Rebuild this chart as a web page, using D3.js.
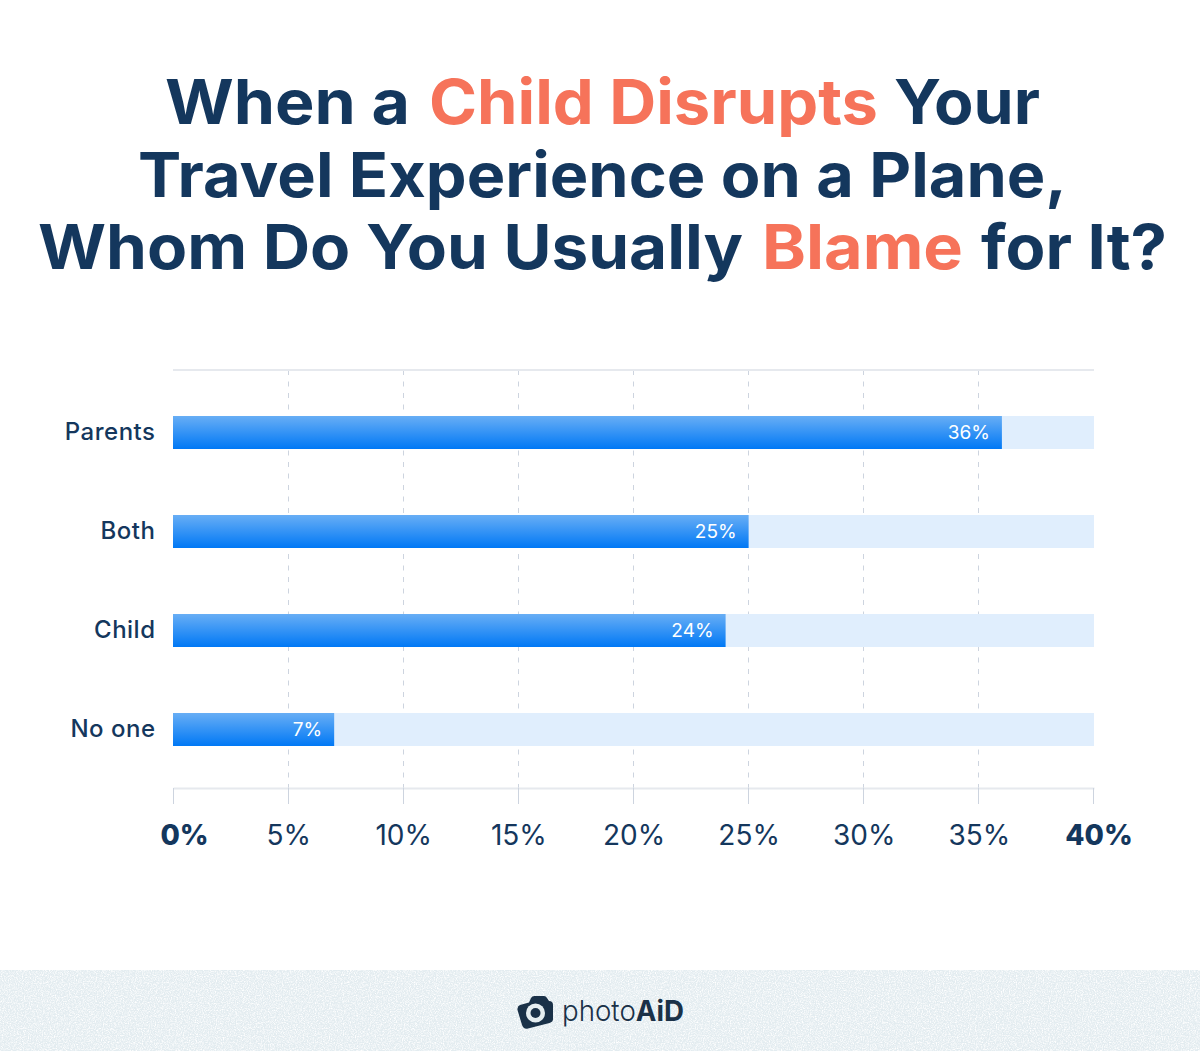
<!DOCTYPE html>
<html><head><meta charset="utf-8">
<script src="https://cdn.jsdelivr.net/npm/d3@7"></script>
<style>
html,body{margin:0;padding:0;background:#fff}
svg{display:block}
text{font-family:Inter,"Noto Sans",sans-serif}
</style></head><body>
<svg id="c" width="1200" height="1051"></svg>
<script>
const categories = ["Parents","Both","Child","No one"];
const values = [36,25,24,7];
const tickValues = [0,5,10,15,20,25,30,35,40];
const titleLines = [
  [["When a",0],["Child Disrupts",1],["Your",0]],
  [["Travel Experience on a Plane,",0]],
  [["Whom Do You Usually",0],["Blame",1],["for It?",0]]
];

(function(){
const navy="#14375d", coral="#f6735a";
const svg=d3.select("#c");
const defs=svg.append("defs");
const g=defs.append("linearGradient").attr("id","bar").attr("x1",0).attr("y1",0).attr("x2",0).attr("y2",1);
g.append("stop").attr("offset",0).attr("stop-color","#68aef5");
g.append("stop").attr("offset",1).attr("stop-color","#0078f5");
const f=defs.append("filter").attr("id","noise").attr("x",0).attr("y",0).attr("width","100%").attr("height","100%");
f.append("feTurbulence").attr("type","fractalNoise").attr("baseFrequency",0.85).attr("numOctaves",3).attr("seed",4);
f.append("feColorMatrix").attr("values","0 0 0 0 1  0 0 0 0 1  0 0 0 0 1  0 0 0 2.4 -0.95");

// Title: each phrase is fitted to the span it occupies in the reference
const titleSpans=[[[165,410],[429,878],[894,1040]],[[138,1067]],[[38,743],[762,963],[981,1167]]];
const titleBase=[124,197,269];
titleLines.forEach((line,i)=>{
  line.forEach(([s,h],j)=>{
    const [a,b]=titleSpans[i][j];
    svg.append("text").attr("x",a).attr("y",titleBase[i])
      .attr("font-size",62).attr("font-weight",700).attr("fill",h?coral:navy)
      .attr("textLength",b-a).attr("lengthAdjust","spacingAndGlyphs").text(s);
  });
});

// Scales
const x=d3.scaleLinear().domain([0,40]).range([173,1094]);
const ruleX=d3.scaleLinear().domain([0,40]).range([173.2,1093.6]);
const y=d3.scaleBand().domain(categories).range([383,779]).paddingInner(2/3).paddingOuter(1/3);
const plotTop=370,plotBottom=788;
const snap=d=>Math.floor(ruleX(d))+0.5;

// Grid
svg.append("g").selectAll("line").data(tickValues.slice(1,-1)).join("line")
  .attr("x1",snap).attr("x2",snap).attr("y1",plotTop).attr("y2",plotBottom)
  .attr("stroke","#cdd4df").attr("stroke-width",1).attr("stroke-dasharray","5 6.5");
svg.append("line").attr("x1",x(0)).attr("x2",x(40)).attr("y1",plotTop).attr("y2",plotTop).attr("stroke","#e6e9ee").attr("stroke-width",2);

// Tracks & bars
svg.append("g").selectAll("rect").data(categories).join("rect")
  .attr("x",x(0)).attr("width",x(40)-x(0)).attr("y",d=>y(d)).attr("height",y.bandwidth()).attr("fill","#e0eefd");
svg.append("g").selectAll("rect").data(values).join("rect")
  .attr("x",x(0)).attr("y",(d,i)=>y(categories[i])).attr("height",y.bandwidth())
  .attr("width",d=>x(d)-x(0)).attr("fill","url(#bar)");
svg.append("g").selectAll("text").data(values).join("text")
  .attr("x",d=>x(d)-12).attr("y",(d,i)=>y(categories[i])+y.bandwidth()/2+6)
  .attr("text-anchor","end").attr("fill","#fff").attr("font-size",19).text(d=>d+"%");

// Category labels
svg.append("g").selectAll("text").data(categories).join("text")
  .attr("x",155.5).attr("y",d=>y(d)+y.bandwidth()/2+7)
  .attr("text-anchor","end").attr("fill",navy).attr("font-size",24).attr("font-weight",500)
  .attr("letter-spacing",0.5).text(d=>d);

// X axis
const ax=svg.append("g").attr("transform",`translate(0,${plotBottom})`)
  .call(d3.axisBottom(x).tickValues(tickValues).tickFormat(d=>d+"%").tickSize(16).tickPadding(21).tickSizeOuter(0));
ax.select(".domain").attr("stroke","#e6e9ee").attr("stroke-width",2);
ax.selectAll(".tick line").attr("stroke","#cdd4df")
  .attr("x1",d=>snap(d)-x(d)-0.5).attr("x2",d=>snap(d)-x(d)-0.5);
ax.selectAll(".tick text").attr("fill",navy).attr("font-size",28)
  .attr("font-family","Inter,sans-serif")
  .attr("font-weight",d=>(d===0||d===40)?800:400)
  .attr("dx",d=>d===0?11:d===40?4.5:0);

// Footer
svg.append("rect").attr("x",0).attr("y",970).attr("width",1200).attr("height",81).attr("fill","#e3ecf0");
svg.append("rect").attr("x",0).attr("y",970).attr("width",1200).attr("height",81).attr("filter","url(#noise)");
const logo=svg.append("g").attr("transform","translate(517,996)");
logo.append("path").attr("fill","#1a3148")
 .attr("d","M3 9 L12 6.5 L14 2 Q15 0 17.5 0 L27 0 Q29 0 30 2 L32 5 Q36 5 36 9 L36 22 Q36.5 26 32.5 27 L11 32.5 Q6.5 33.5 5 29 L0.5 14 Q0 10 3 9 Z");
logo.append("circle").attr("cx",18.5).attr("cy",17).attr("r",9.5).attr("fill","#e6eef1");
logo.append("circle").attr("cx",18.5).attr("cy",17).attr("r",5).attr("fill","#1a3148");
const lt=svg.append("text").attr("x",562).attr("y",1021).attr("font-size",29).attr("fill","#1a3148")
  .attr("textLength",122).attr("lengthAdjust","spacingAndGlyphs");
lt.append("tspan").attr("font-weight",300).text("photo");
lt.append("tspan").attr("font-weight",700).text("AiD");
})();
</script>
</body></html>
